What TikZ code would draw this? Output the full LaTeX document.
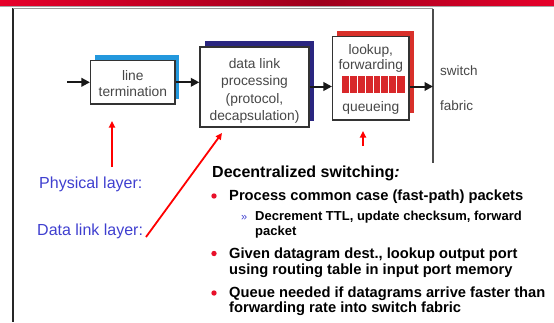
\documentclass[tikz,border=0pt]{standalone}
\usepackage{fontspec}
\setmainfont{Liberation Sans}
\usetikzlibrary{arrows.meta}
\definecolor{barred}{HTML}{E6002A}
\definecolor{bardark}{HTML}{9E001C}
\definecolor{edge}{HTML}{333333}
\definecolor{boxtext}{HTML}{474747}
\definecolor{shblue}{HTML}{2398DD}
\definecolor{shnavy}{HTML}{2A2680}
\definecolor{shred}{HTML}{D8302A}
\definecolor{qred}{HTML}{D8282A}
\definecolor{labblue}{HTML}{3F3FCF}
\definecolor{dotred}{HTML}{E8102A}
\tikzset{
  procbox/.style={draw=edge, line width=1.4pt, fill=white, inner sep=0pt},
  boxlabel/.style={anchor=base, inner sep=0pt, text=boxtext, font=\fontsize{13.8}{16}\selectfont},
  flow/.style={draw=black!90, line width=2pt, -{Triangle[length=8.5pt,width=8.5pt]}},
  pointer/.style={draw=red, line width=1.8pt, -{Triangle[length=6.5pt,width=6pt]}},
  layerlabel/.style={anchor=base west, inner sep=0pt, text=labblue, font=\fontsize{16}{18}\selectfont},
  headline/.style={anchor=base west, inner sep=0pt, font=\bfseries\fontsize{16}{18}\selectfont},
  mainitem/.style={anchor=base west, inner sep=0pt, font=\bfseries\fontsize{14.7}{16}\selectfont},
  subitem/.style={anchor=base west, inner sep=0pt, font=\bfseries\fontsize{13}{14}\selectfont},
  fabtext/.style={anchor=base west, inner sep=0pt, text=boxtext, font=\fontsize{13.5}{16}\selectfont},
  bulletdot/.style={fill=dotred, draw=none},
}
\begin{document}
\begin{tikzpicture}[x=1pt,y=-1pt]
\useasboundingbox (0,0) rectangle (554,322);

% title bar
\shade[left color=barred, right color=bardark] (0,0) rectangle (320,5.2);
\shade[left color=bardark, right color=barred] (320,0) rectangle (554,5.2);
\draw[gray!70, line width=0.8pt] (0,6.4) -- (554,6.4);

% frame of the figure and the switch fabric line
\draw[black!85, line width=1.2pt] (13,8) -- (13,322);
\draw[gray!80, line width=0.8pt] (13,8.5) -- (433,8.5);
\draw[black!70, line width=1.3pt] (433,9) -- (433,163);

% coloured shadows behind the boxes
\fill[shblue] (95,55) rectangle (178.5,98.5);
\fill[shnavy] (205,41) rectangle (314,121);
\fill[shred] (337,30.7) rectangle (413.5,113);

% processing boxes
\node[procbox, minimum width=84.3pt, minimum height=43.3pt] (lt) at (132.8,82.3) {};
\node[procbox, minimum width=109pt, minimum height=80pt] (dl) at (254.5,87) {};
\node[procbox, minimum width=76.3pt, minimum height=83.3pt] (lq) at (370.8,78.3) {};

\node[boxlabel] (lt1) at (132.8,80) {line};
\node[boxlabel] (lt2) at (132.8,96.7) {termination};

\node[boxlabel] (dl1) at (254.5,68.3) {data link};
\node[boxlabel] (dl2) at (254.5,85.7) {processing};
\node[boxlabel] (dl3) at (254.5,103.1) {(protocol,};
\node[boxlabel] (dl4) at (254.5,120.5) {decapsulation)};

\node[boxlabel] (lq1) at (370.8,54) {lookup,};
\node[boxlabel] (lq2) at (370.8,69.5) {forwarding};
\node[boxlabel] (lq3) at (370.8,111.7) {queueing};

% queue slots
\fill[qred] (341.5,75.7) rectangle (404.5,92.7);
\foreach \i in {1,...,7}
  \draw[white, line width=1pt] ({341.5+\i*63/8},75.7) -- ({341.5+\i*63/8},92.7);

% switch fabric
\node[fabtext] (sw) at (440,75) {switch};
\node[fabtext] (fb) at (440,110) {fabric};

% data path
\coordinate (in) at (67,82.3);
\coordinate (fab) at (433,86.5);
\draw[flow] (in) -- (lt.west);
\draw[flow] (lt.east) -- (lt.east -| dl.west);
\draw[flow] (dl.east |- fab) -- (lq.west |- fab);
\draw[flow] (lq.east |- fab) -- (fab);

% layer labels and pointers
\node[layerlabel] (phy) at (39,188) {Physical layer:};
\node[layerlabel] (dll) at (37,235) {Data link layer:};
\coordinate (phyend) at (112,167);
\coordinate (dllend) at (146,237);
\coordinate (qend) at (363,146);
\draw[pointer] (phyend) -- (112,121);
\draw[pointer] (dllend) -- (222,133);
\draw[pointer] (qend) -- (363,131);

% text block
\node[headline] (hd) at (212,177) {Decentralized switching\textit{:}};

\fill[bulletdot] (214,196) circle (2.7pt);
\node[mainitem] (b1) at (229,200.7) {Process common case (fast-path) packets};
\node[anchor=base west, inner sep=0pt, text=labblue, font=\fontsize{11}{12}\selectfont] (sb) at (241,220) {»};
\node[subitem] (s1) at (255,220.7) {Decrement TTL, update checksum, forward};
\node[subitem] (s2) at (255,235) {packet};

\fill[bulletdot] (214,253.5) circle (2.7pt);
\node[mainitem] (b2) at (229,258.3) {Given datagram dest., lookup output port};
\node[mainitem] (b2b) at (229,274.5) {using routing table in input port memory};

\fill[bulletdot] (214,293) circle (2.7pt);
\node[mainitem] (b3) at (229,297.7) {Queue needed if datagrams arrive faster than};
\node[mainitem] (b3b) at (229,312.7) {forwarding rate into switch fabric};
\end{tikzpicture}
\end{document}
